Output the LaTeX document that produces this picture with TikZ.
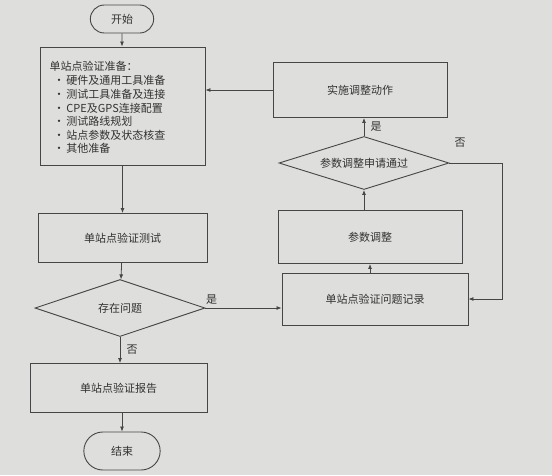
\documentclass[tikz,border=0pt]{standalone}
\usepackage{fontspec}
\newfontfamily\cjk{Noto Sans CJK SC}
\usetikzlibrary{shapes.geometric,shapes.misc,arrows.meta}
\definecolor{bg}{RGB}{222,222,220}
\definecolor{ln}{RGB}{70,70,70}
\definecolor{tx}{RGB}{50,50,50}
\tikzset{
  proc/.style={draw=ln,line width=0.9pt,minimum width=#1,text=tx,inner sep=0pt},
  term/.style={draw=ln,line width=0.9pt,rounded rectangle,text=tx},
  dec/.style={draw=ln,line width=0.9pt,diamond,aspect=3,inner sep=0pt,text=tx},
  arr/.style={draw=ln,line width=0.8pt,-{Latex[length=5pt,width=4pt]}},
  lbl/.style={text=tx,font=\cjk\fontsize{11}{13}\selectfont}
}
\begin{document}
\begin{tikzpicture}[x=1pt,y=-1pt,font=\cjk\fontsize{11}{13}\selectfont]
\fill[bg] (0,0) rectangle (552,475);
\useasboundingbox (0,0) rectangle (552,475);
% left column
\node[term,minimum width=70pt,minimum height=28pt] (start) at (122,19) {开始};
\node[proc=165pt,minimum height=118pt] (prep) at (122.5,106) {};
\node[anchor=west,text=tx] (prept) at (46,66) {单站点验证准备：};
\node[anchor=north west,text=tx,align=left,font=\cjk\fontsize{11}{13.6}\selectfont] (prepl) at (50,72) {•\,硬件及通用工具准备\\•\,测试工具准备及连接\\•\,CPE及GPS连接配置\\•\,测试路线规划\\•\,站点参数及状态核查\\•\,其他准备};
\node[proc=169pt,minimum height=49pt] (test) at (122.5,238) {单站点验证测试};
\node[dec,minimum width=170pt,minimum height=57pt] (q1) at (120,308) {存在问题};
\node[proc=177pt,minimum height=49pt] (rep) at (118.5,388) {单站点验证报告};
\node[term,minimum width=83pt,minimum height=38pt] (end) at (122,451) {结束};
% right column
\node[proc=186pt,minimum height=52pt] (rec) at (375,299) {单站点验证问题记录};
\node[proc=184pt,minimum height=53pt] (adj) at (370,237) {参数调整};
\node[dec,minimum width=170pt,minimum height=53pt] (q2) at (364,163) {参数调整申请通过};
\node[proc=174pt,minimum height=55pt] (act) at (360,90) {实施调整动作};
\coordinate (c1) at (502,163);
\coordinate (c2) at (502,299);
% connectors
\draw[arr] (start) -- (start|-prep.north);
\draw[arr] (prep.south-|test) -- (test.north);
\draw[arr] (test) -- (q1);
\draw[arr] (q1.east) -- (rec.west|-q1.east) node[lbl,pos=0.08,above] {是};
\draw[arr] (q1.south) -- (rep.north-|q1.south) node[lbl,midway,right=3pt] {否};
\draw[arr] (rep.south-|end) -- (end.north);
\draw[arr] (rec.north-|adj) -- (adj.south);
\draw[arr] (adj.north-|q2) -- (q2.south);
\draw[arr] (q2.north) -- (act.south-|q2.north) node[lbl,midway,right=3pt] {是};
\draw[arr] (q2.east) -- (c1) -- (c2) -- (rec.east);
\node[lbl] (no2) at (460,143) {否};
\draw[arr] (act.west) -- (prep.east|-act.west);
\end{tikzpicture}
\end{document}
